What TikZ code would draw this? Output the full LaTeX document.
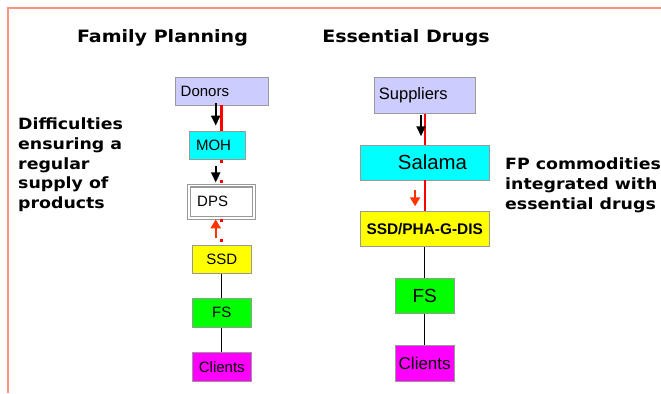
\documentclass[tikz,border=0pt]{standalone}
\usepackage{fontspec}
\setmainfont{Liberation Sans}
\newfontfamily\hfb[FakeStretch=1.12]{DejaVu Sans Bold}
\usetikzlibrary{arrows.meta}
\definecolor{framec}{HTML}{F7967E}
\definecolor{lav}{HTML}{CCCCFF}
\definecolor{bord}{HTML}{999999}
\definecolor{arrred}{HTML}{FF3300}
\definecolor{cyanc}{HTML}{00FFFF}
\definecolor{magc}{HTML}{FF00FF}
\definecolor{greenc}{HTML}{00FF00}
\definecolor{yellowc}{HTML}{FFFF00}
\begin{document}
\begin{tikzpicture}[x=1bp,y=-1bp,
  box/.style={draw=bord, line width=0.9bp, inner sep=0pt, font=\fontsize{15bp}{18bp}\selectfont},
  titletext/.style={font=\hfb\fontsize{17bp}{20bp}\selectfont, inner sep=0pt},
  notetext/.style={font=\hfb\fontsize{15.5bp}{19.8bp}\selectfont, inner sep=0pt, align=left, anchor=north west},
  redl/.style={draw=red, line width=2.6bp},
  reddot/.style={draw=red, line width=2.6bp, dash pattern=on 3bp off 17bp},
  conn/.style={draw=black, line width=0.9bp},
  blkarr/.style={draw=black, line width=2bp, -{Triangle[width=9bp,length=10bp]}},
  orarr/.style={draw=arrred, line width=2bp, -{Triangle[width=10bp,length=9bp]}}
]
\useasboundingbox (0,0) rectangle (661,393);
% frame
\draw[draw=framec, line width=2bp] (7.5,393) -- (7.5,7.8) -- (661,7.8);

% titles
\node[titletext, anchor=base] (tfp) at (162.5,42) {Family Planning};
\node[titletext, anchor=base] (ted) at (406,42) {Essential Drugs};

% notes
\node[notetext] (n1) at (18,117.5) {Difficulties\\ensuring a\\regular\\supply of\\products};
\node[notetext] (n2) at (505,157.5) {FP commodities\\integrated with\\essential drugs};

% left column
\node[box, fill=lav, minimum width=93bp, minimum height=28bp, inner xsep=5.7bp, text width=81.6bp, align=left] (donors) at (221.5,91) {Donors};
\node[box, fill=cyanc, minimum width=55.7bp, minimum height=28.3bp, inner xsep=6.7bp, text width=42.3bp, align=left] (moh) at (217.2,145.2) {MOH};
\node[box, fill=white, draw=bord, double=white, double distance=1.8bp, line width=1.1bp, minimum width=65bp, minimum height=32.5bp, inner xsep=8bp, text width=49bp, align=left] (dps) at (221.7,201.8) {DPS};
\node[box, fill=yellowc, minimum width=59bp, minimum height=28.3bp] (ssd) at (221.8,259.2) {SSD};
\node[box, fill=greenc, minimum width=59bp, minimum height=28.7bp] (fs) at (221.8,312.7) {FS};
\node[box, fill=magc, minimum width=59bp, minimum height=28.7bp] (cl) at (221.8,366.7) {Clients};

% right column
\node[box, fill=lav, minimum width=101.7bp, minimum height=36bp, inner xsep=5bp, text width=91.7bp, align=left, font=\fontsize{16.5bp}{19bp}\selectfont] (sup) at (424.8,95.3) {Suppliers};
\node[box, fill=cyanc, minimum width=129.3bp, minimum height=35bp, font=\fontsize{20.4bp}{24bp}\selectfont] (sal) at (424.7,162.5) {\hspace*{15.6bp}Salama};
\node[box, fill=yellowc, minimum width=129.3bp, minimum height=35bp, font=\bfseries\fontsize{15.4bp}{18bp}\selectfont] (pha) at (424.7,229.2) {SSD/PHA-G-DIS};
\node[box, fill=greenc, minimum width=59bp, minimum height=35bp, font=\fontsize{19bp}{22bp}\selectfont] (fs2) at (424.7,295.8) {FS};
\node[box, fill=magc, minimum width=59bp, minimum height=35.7bp, font=\fontsize{17bp}{20bp}\selectfont] (cl2) at (424.7,363.2) {Clients};

% left connectors
\draw[redl] (donors.south) -- (donors.south |- moh.north);
\draw[reddot] (donors.south |- moh.south) -- (donors.south |- dps.north);
\draw[reddot] (donors.south |- dps.south) -- (donors.south |- ssd.north);
\draw[conn] (ssd.south) -- (fs.north);
\draw[conn] (fs.south) -- (cl.north);
\draw[blkarr] ([xshift=-5.8bp,yshift=2bp]donors.south) -- ([xshift=-5.8bp,yshift=5bp]donors.south |- moh.north);
\draw[blkarr] ([xshift=-5.8bp,yshift=-5.7bp]donors.south |- moh.south) -- ([xshift=-5.8bp,yshift=2.6bp]donors.south |- dps.north);
\draw[orarr] ([xshift=-5.8bp,yshift=7bp]donors.south |- ssd.north) -- ([xshift=-5.8bp,yshift=-0.7bp]donors.south |- dps.south);

% right connectors
\draw[redl] (sup.south) -- (sup.south |- sal.north);
\draw[redl] (sup.south |- sal.south) -- (sup.south |- pha.north);
\draw[conn] (pha.south) -- (fs2.north);
\draw[conn] (fs2.south) -- (cl2.north);
\draw[blkarr] ([xshift=-3.8bp,yshift=-1.7bp]sup.south) -- ([xshift=-3.8bp,yshift=8.3bp]sup.south |- sal.north);
\draw[orarr] ([xshift=-9.7bp,yshift=-10bp]sup.south |- sal.south) -- ([xshift=-9.7bp,yshift=5bp]sup.south |- pha.north);
\end{tikzpicture}
\end{document}
